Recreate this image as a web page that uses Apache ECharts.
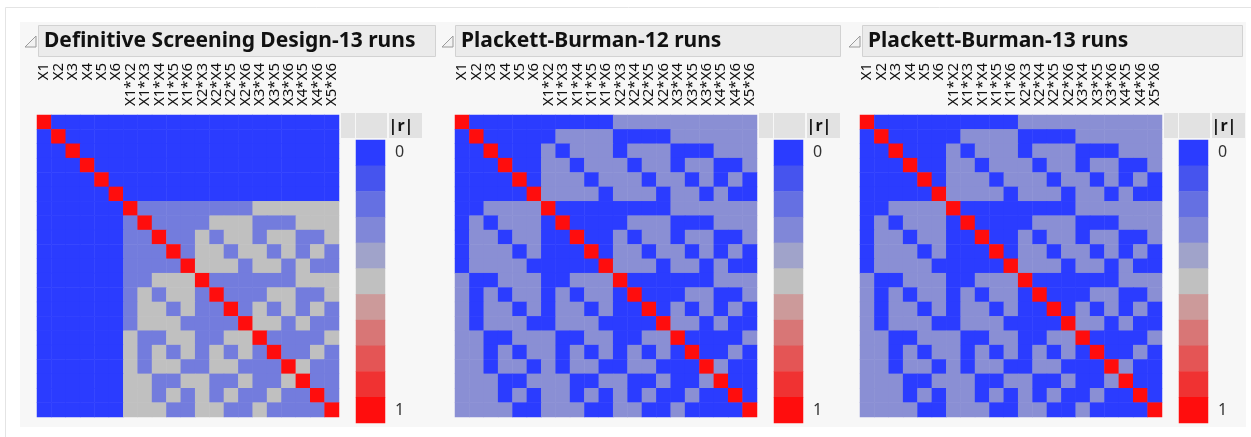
<!DOCTYPE html>
<html>
<head>
<meta charset="utf-8">
<script src="https://cdn.jsdelivr.net/npm/echarts@6/dist/echarts.min.js"></script>
<style>
  html, body { margin: 0; padding: 0; background: #fff; }
  #chart { width: 1251px; height: 437px; }
</style>
</head>
<body>
<div id="chart"></div>
<script>
// effects, same order on both axes
var effects = ['X1', 'X2', 'X3', 'X4', 'X5', 'X6',
    'X1*X2', 'X1*X3', 'X1*X4', 'X1*X5', 'X1*X6', 'X2*X3', 'X2*X4', 'X2*X5', 'X2*X6',
    'X3*X4', 'X3*X5', 'X3*X6', 'X4*X5', 'X4*X6', 'X5*X6'];

var panelTitles = ['Definitive Screening Design-13 runs', 'Plackett-Burman-12 runs', 'Plackett-Burman-13 runs'];

// legend steps for |r|
var legendSteps = ['0', '0.1', '0.2', '0.3', '0.4', '0.5', '0.6', '0.7', '0.8', '0.9', '1'];
var legendValues = [0, 0.1, 0.2, 0.3, 0.4, 0.5, 0.6, 0.7, 0.8, 0.9, 1];

// |r| matrices (row = effect, col = effect)
var dsdRows = [
    [1,0,0,0,0,0,0,0,0,0,0,0,0,0,0,0,0,0,0,0,0],
    [0,1,0,0,0,0,0,0,0,0,0,0,0,0,0,0,0,0,0,0,0],
    [0,0,1,0,0,0,0,0,0,0,0,0,0,0,0,0,0,0,0,0,0],
    [0,0,0,1,0,0,0,0,0,0,0,0,0,0,0,0,0,0,0,0,0],
    [0,0,0,0,1,0,0,0,0,0,0,0,0,0,0,0,0,0,0,0,0],
    [0,0,0,0,0,1,0,0,0,0,0,0,0,0,0,0,0,0,0,0,0],
    [0,0,0,0,0,0,1,.25,.25,.25,.25,.25,.25,.25,.25,.5,.5,.5,.5,.5,.5],
    [0,0,0,0,0,0,.25,1,.25,.25,.25,.25,.5,.5,.5,.25,.25,.25,.5,.5,.5],
    [0,0,0,0,0,0,.25,.25,1,.25,.25,.5,.25,.5,.5,.25,.5,.5,.25,.25,.5],
    [0,0,0,0,0,0,.25,.25,.25,1,.25,.5,.5,.25,.5,.5,.25,.5,.25,.5,.25],
    [0,0,0,0,0,0,.25,.25,.25,.25,1,.5,.5,.5,.25,.5,.5,.25,.5,.25,.25],
    [0,0,0,0,0,0,.25,.25,.5,.5,.5,1,.25,.25,.25,.25,.25,.25,.5,.5,.5],
    [0,0,0,0,0,0,.25,.5,.25,.5,.5,.25,1,.25,.25,.25,.5,.5,.25,.25,.5],
    [0,0,0,0,0,0,.25,.5,.5,.25,.5,.25,.25,1,.25,.5,.25,.5,.25,.5,.25],
    [0,0,0,0,0,0,.25,.5,.5,.5,.25,.25,.25,.25,1,.5,.5,.25,.5,.25,.25],
    [0,0,0,0,0,0,.5,.25,.25,.5,.5,.25,.25,.5,.5,1,.25,.25,.25,.25,.5],
    [0,0,0,0,0,0,.5,.25,.5,.25,.5,.25,.5,.25,.5,.25,1,.25,.25,.5,.25],
    [0,0,0,0,0,0,.5,.25,.5,.5,.25,.25,.5,.5,.25,.25,.25,1,.5,.25,.25],
    [0,0,0,0,0,0,.5,.5,.25,.25,.5,.5,.25,.25,.5,.25,.25,.5,1,.25,.25],
    [0,0,0,0,0,0,.5,.5,.25,.5,.25,.5,.25,.5,.25,.25,.5,.25,.25,1,.25],
    [0,0,0,0,0,0,.5,.5,.5,.25,.25,.5,.5,.25,.25,.5,.25,.25,.25,.25,1]
];

var pb12Rows = [
    [1,0,0,0,0,0,0,0,0,0,0,.33,.33,.33,.33,.33,.33,.33,.33,.33,.33],
    [0,1,0,0,0,0,0,.33,.33,.33,.33,0,0,0,0,.33,.33,.33,.33,.33,.33],
    [0,0,1,0,0,0,.33,0,.33,.33,.33,0,.33,.33,.33,0,0,0,.33,.33,.33],
    [0,0,0,1,0,0,.33,.33,0,.33,.33,.33,0,.33,.33,0,.33,.33,0,0,.33],
    [0,0,0,0,1,0,.33,.33,.33,0,.33,.33,.33,0,.33,.33,0,.33,0,.33,0],
    [0,0,0,0,0,1,.33,.33,.33,.33,0,.33,.33,.33,0,.33,.33,0,.33,0,0],
    [0,0,.33,.33,.33,.33,1,0,0,0,0,0,0,0,0,.33,.33,.33,.33,.33,.33],
    [0,.33,0,.33,.33,.33,0,1,0,0,0,0,.33,.33,.33,0,0,0,.33,.33,.33],
    [0,.33,.33,0,.33,.33,0,0,1,0,0,.33,0,.33,.33,0,.33,.33,0,0,.33],
    [0,.33,.33,.33,0,.33,0,0,0,1,0,.33,.33,0,.33,.33,0,.33,0,.33,0],
    [0,.33,.33,.33,.33,0,0,0,0,0,1,.33,.33,.33,0,.33,.33,0,.33,0,0],
    [.33,0,0,.33,.33,.33,0,0,.33,.33,.33,1,0,0,0,0,0,0,.33,.33,.33],
    [.33,0,.33,0,.33,.33,0,.33,0,.33,.33,0,1,0,0,0,.33,.33,0,0,.33],
    [.33,0,.33,.33,0,.33,0,.33,.33,0,.33,0,0,1,0,.33,0,.33,0,.33,0],
    [.33,0,.33,.33,.33,0,0,.33,.33,.33,0,0,0,0,1,.33,.33,0,.33,0,0],
    [.33,.33,0,0,.33,.33,.33,0,0,.33,.33,0,0,.33,.33,1,0,0,0,0,.33],
    [.33,.33,0,.33,0,.33,.33,0,.33,0,.33,0,.33,0,.33,0,1,0,0,.33,0],
    [.33,.33,0,.33,.33,0,.33,0,.33,.33,0,0,.33,.33,0,0,0,1,.33,0,0],
    [.33,.33,.33,0,0,.33,.33,.33,0,0,.33,.33,0,0,.33,0,0,.33,1,0,0],
    [.33,.33,.33,0,.33,0,.33,.33,0,.33,0,.33,0,.33,0,0,.33,0,0,1,0],
    [.33,.33,.33,.33,0,0,.33,.33,.33,0,0,.33,.33,0,0,.33,0,0,0,0,1]
];

var pb13Rows = [
    [1,0,0,0,0,0,0,0,0,0,0,.33,.33,.33,.33,.33,.33,.33,.33,.33,.33],
    [0,1,0,0,0,0,0,.33,.33,.33,.33,0,0,0,0,.33,.33,.33,.33,.33,.33],
    [0,0,1,0,0,0,.33,0,.33,.33,.33,0,.33,.33,.33,0,0,0,.33,.33,.33],
    [0,0,0,1,0,0,.33,.33,0,.33,.33,.33,0,.33,.33,0,.33,.33,0,0,.33],
    [0,0,0,0,1,0,.33,.33,.33,0,.33,.33,.33,0,.33,.33,0,.33,0,.33,0],
    [0,0,0,0,0,1,.33,.33,.33,.33,0,.33,.33,.33,0,.33,.33,0,.33,0,0],
    [0,0,.33,.33,.33,.33,1,0,0,0,0,0,0,0,0,.33,.33,.33,.33,.33,.33],
    [0,.33,0,.33,.33,.33,0,1,0,0,0,0,.33,.33,.33,0,0,0,.33,.33,.33],
    [0,.33,.33,0,.33,.33,0,0,1,0,0,.33,0,.33,.33,0,.33,.33,0,0,.33],
    [0,.33,.33,.33,0,.33,0,0,0,1,0,.33,.33,0,.33,.33,0,.33,0,.33,0],
    [0,.33,.33,.33,.33,0,0,0,0,0,1,.33,.33,.33,0,.33,.33,0,.33,0,0],
    [.33,0,0,.33,.33,.33,0,0,.33,.33,.33,1,0,0,0,0,0,0,.33,.33,.33],
    [.33,0,.33,0,.33,.33,0,.33,0,.33,.33,0,1,0,0,0,.33,.33,0,0,.33],
    [.33,0,.33,.33,0,.33,0,.33,.33,0,.33,0,0,1,0,.33,0,.33,0,.33,0],
    [.33,0,.33,.33,.33,0,0,.33,.33,.33,0,0,0,0,1,.33,.33,0,.33,0,0],
    [.33,.33,0,0,.33,.33,.33,0,0,.33,.33,0,0,.33,.33,1,0,0,0,0,.33],
    [.33,.33,0,.33,0,.33,.33,0,.33,0,.33,0,.33,0,.33,0,1,0,0,.33,0],
    [.33,.33,0,.33,.33,0,.33,0,.33,.33,0,0,.33,.33,0,0,0,1,.33,0,0],
    [.33,.33,.33,0,0,.33,.33,.33,0,0,.33,.33,0,0,.33,0,0,.33,1,0,0],
    [.33,.33,.33,0,.33,0,.33,.33,0,.33,0,.33,0,.33,0,0,.33,0,0,1,0],
    [.33,.33,.33,.33,0,0,.33,.33,.33,0,0,.33,.33,0,0,.33,0,0,0,0,1]
];

var panelRows = [dsdRows, pb12Rows, pb13Rows];

// layout
var mapLeft = [37, 455, 860];
var headerX = [38, 455, 862];
var headerW = [397, 385, 380];
var mapTop = 115, mapSize = 302;
var FONT = '"Noto Sans", "Open Sans", sans-serif';

// blue -> gray -> red, like the JMP |r| legend
var rColors = ['#2b3cff', '#4654ee', '#6570e2', '#8087d8', '#a0a3ca', '#c0c0c0',
    '#cc9a9a', '#d87676', '#e45555', '#f03232', '#ff0d0d'];

function toCells(rows) {
    var out = [];
    rows.forEach(function (row, y) {
        row.forEach(function (v, x) {
            out.push([x, y, v]);
        });
    });
    return out;
}

var hidden = { axisLine: { show: false }, axisTick: { show: false }, axisLabel: { show: false }, splitLine: { show: false } };

var grid = [], xAxis = [], yAxis = [], series = [], graphic = [];

// page background
graphic.push({ type: 'rect', shape: { x: 20, y: 22, width: 1226, height: 405 }, style: { fill: '#f7f7f7' }, silent: true });
graphic.push({ type: 'line', shape: { x1: 5.5, y1: 7.5, x2: 1251, y2: 7.5 }, style: { stroke: '#e4e4e4', lineWidth: 1 } });
graphic.push({ type: 'line', shape: { x1: 5.5, y1: 7.5, x2: 5.5, y2: 437 }, style: { stroke: '#e4e4e4', lineWidth: 1 } });

panelRows.forEach(function (rows, i) {
    var L = mapLeft[i];

    // heatmap
    grid.push({ left: L, top: mapTop, width: mapSize, height: mapSize });
    xAxis.push(Object.assign({ type: 'category', gridIndex: grid.length - 1, data: effects }, hidden));
    yAxis.push(Object.assign({ type: 'category', gridIndex: grid.length - 1, data: effects, inverse: true }, hidden));
    series.push({
        type: 'heatmap', xAxisIndex: xAxis.length - 1, yAxisIndex: yAxis.length - 1,
        data: toCells(rows), itemStyle: { borderWidth: 0 }, emphasis: { disabled: true }
    });

    // column names: bottom axis of a thin strip above the map, tops lined up
    grid.push({ left: L, top: 40, width: mapSize, height: 20 });
    xAxis.push({
        type: 'category', gridIndex: grid.length - 1, data: effects, position: 'bottom',
        axisLine: { show: false }, axisTick: { show: false }, splitLine: { show: false },
        axisLabel: {
            interval: 0, rotate: 90, margin: 3,
            fontFamily: FONT, fontSize: 15, color: '#111'
        }
    });
    yAxis.push(Object.assign({ type: 'value', gridIndex: grid.length - 1 }, hidden));

    // |r| legend bar
    grid.push({ left: L + 319, top: 140, width: 29, height: 283 });
    xAxis.push(Object.assign({ type: 'category', gridIndex: grid.length - 1, data: ['|r|'] }, hidden));
    yAxis.push({
        type: 'category', gridIndex: grid.length - 1, data: legendSteps, inverse: true, position: 'right',
        axisLine: { show: false }, axisTick: { show: false },
        axisLabel: {
            interval: 0, margin: 10, fontFamily: FONT, fontSize: 16, color: '#333',
            padding: [5, 0, 0, 0],
            formatter: function (v, idx) { return (idx === 0 || idx === legendSteps.length - 1) ? v : ''; }
        }
    });
    series.push({
        type: 'heatmap', xAxisIndex: xAxis.length - 1, yAxisIndex: yAxis.length - 1,
        data: legendValues.map(function (v, k) { return [0, k, v]; }),
        itemStyle: { borderWidth: 0 }, emphasis: { disabled: true }
    });

    // title bar
    var hx = headerX[i];
    graphic.push({
        type: 'polygon', shape: { points: [[hx - 13, 47], [hx - 2, 47], [hx - 2, 36]] },
        style: { fill: '#f2f2f2', stroke: '#9a9a9a', lineWidth: 1 }
    });
    graphic.push({
        type: 'rect', shape: { x: hx + 0.5, y: 25.5, width: headerW[i], height: 31 },
        style: { fill: '#ebebeb', stroke: '#d2d2d2', lineWidth: 1 }
    });
    graphic.push({
        type: 'text', x: hx + 6, y: 41,
        style: { text: panelTitles[i], font: 'bold 21px ' + FONT, fill: '#111', verticalAlign: 'middle' }
    });

    // legend header strip
    graphic.push({ type: 'rect', shape: { x: L + 304, y: 113, width: 14, height: 25 }, style: { fill: '#e2e2e2' } });
    graphic.push({ type: 'rect', shape: { x: L + 319, y: 113, width: 31, height: 25 }, style: { fill: '#e2e2e2' } });
    graphic.push({ type: 'rect', shape: { x: L + 352, y: 113, width: 33, height: 25 }, style: { fill: '#e2e2e2' } });
    graphic.push({
        type: 'text', x: L + 364, y: 126,
        style: { text: '|r|', font: 'bold 16px ' + FONT, fill: '#111', align: 'center', verticalAlign: 'middle' }
    });
});

var chart = echarts.init(document.getElementById('chart'), null, { renderer: 'canvas' });
chart.setOption({
    backgroundColor: '#ffffff',
    animation: false,
    grid: grid,
    xAxis: xAxis,
    yAxis: yAxis,
    visualMap: {
        type: 'continuous', show: false, min: 0, max: 1,
        seriesIndex: series.map(function (s, k) { return k; }),
        inRange: { color: rColors }
    },
    graphic: { elements: graphic },
    series: series
});
</script>
</body>
</html>
